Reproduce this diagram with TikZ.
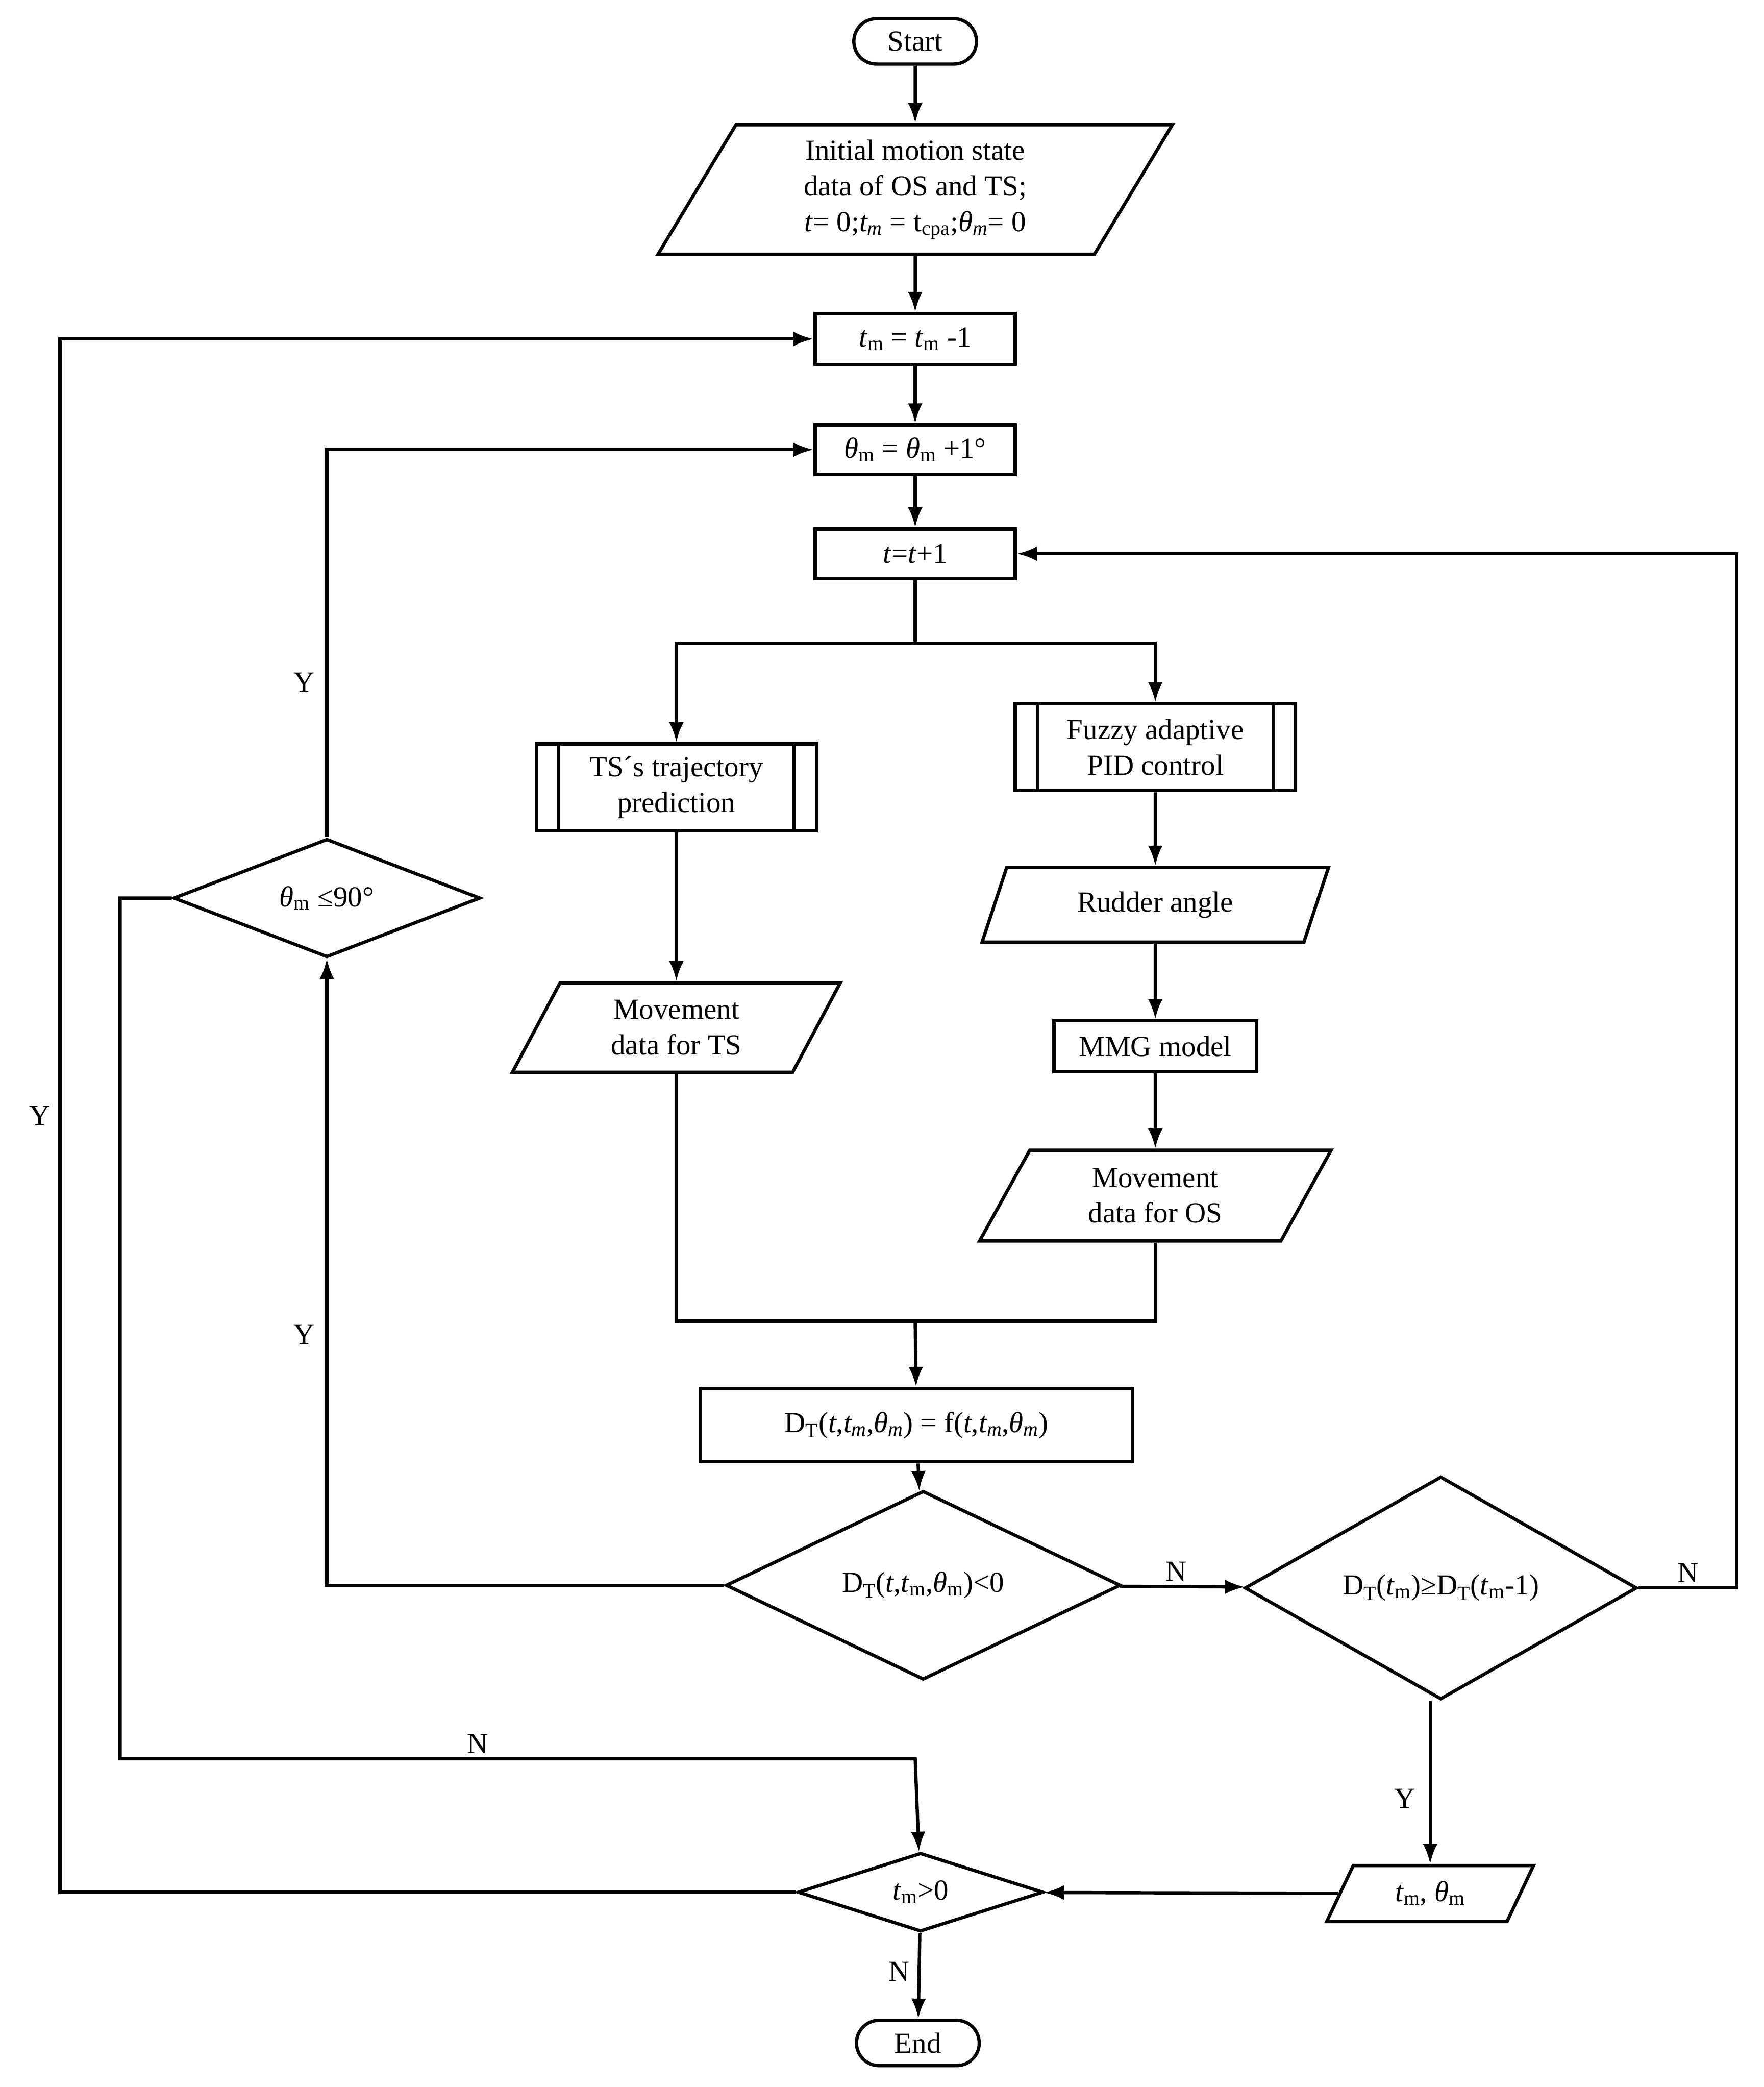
\documentclass[tikz,border=0pt]{standalone}
\usepackage{fontspec}
\setmainfont{Liberation Serif}
\usetikzlibrary{shapes.geometric,shapes.misc,arrows.meta}
\newcommand{\tm}{\textit{t}\textsubscript{m}}
\newcommand{\thm}{\textit{θ}\textsubscript{m}}
\newcommand{\DT}{D\textsubscript{T}}
\begin{document}
\begin{tikzpicture}[
x=0.05cm, y=-0.05cm,
>={Latex[length=0.75cm,width=0.55cm]},
line width=3.5pt,
font=\fontsize{31}{38}\selectfont,
every node/.style={inner sep=0pt},
proc/.style={rectangle,draw,align=center},
term/.style={rounded rectangle,draw,minimum width=4.6cm,minimum height=1.7cm},
io/.style={trapezium,draw,align=center,trapezium left angle=64,trapezium right angle=116,trapezium stretches=true},
dec/.style={diamond,draw,align=center},
line/.style={draw,->},
lbl/.style={font=\fontsize{31}{38}\selectfont}
]
\useasboundingbox (0,0) rectangle (1322,1564);

\node[term] (start) at (686,31) {Start};
\node[io,minimum width=19.3cm,minimum height=4.85cm] (init) at (686,142) {Initial motion state\\ data of OS and TS;\\ \textit{t}= 0;\textit{t\textsubscript{m}} = t\textsubscript{cpa};\textit{θ\textsubscript{m}}= 0};
\node[proc,minimum width=7.5cm,minimum height=1.9cm] (tmdec) at (686,254) {\tm{} = \tm{} -1};
\node[proc,minimum width=7.5cm,minimum height=1.85cm] (thinc) at (686,337) {\thm{} = \thm{} +1°};
\node[proc,minimum width=7.5cm,minimum height=1.85cm] (tinc) at (686,415) {\textit{t}=\textit{t}+1};
\node[proc,minimum width=10.5cm,minimum height=3.25cm] (pred) at (507,590) {TS´s trajectory\\ prediction};
\node[proc,minimum width=10.5cm,minimum height=3.25cm] (fuzzy) at (866,560) {Fuzzy adaptive\\ PID control};
\node[io,minimum width=13cm,minimum height=2.8cm] (rudder) at (866,678) {Rudder angle};
\node[proc,minimum width=7.6cm,minimum height=1.9cm] (mmg) at (866,784) {MMG model};
\node[io,minimum width=13.2cm,minimum height=3.4cm] (movos) at (866,896) {Movement\\ data for OS};
\node[io,minimum width=12.3cm,minimum height=3.35cm] (movts) at (507,770) {Movement\\ data for TS};
\node[proc,minimum width=16.2cm,minimum height=2.75cm] (dist) at (687,1068) {\DT(\textit{t},\textit{t\textsubscript{m}},\textit{θ\textsubscript{m}}) = f(\textit{t},\textit{t\textsubscript{m}},\textit{θ\textsubscript{m}})};
\node[dec,minimum width=14.8cm,minimum height=4.5cm] (neg) at (692,1188) {\DT(\textit{t},\tm,\thm)<0};
\node[dec,minimum width=14.7cm,minimum height=4.7cm] (grow) at (1080,1190) {\DT(\tm)≥\DT(\tm-1)};
\node[dec,minimum width=11.5cm,minimum height=3.6cm] (lim) at (245,673) {\thm{} ≤90°};
\node[io,minimum width=7.8cm,minimum height=2.1cm] (res) at (1072,1419) {\tm, \thm};
\node[dec,minimum width=9.2cm,minimum height=2.6cm] (pos) at (690,1418) {\tm>0};
\node[term] (end) at (688,1531) {End};

% predefined process bars
\draw ([xshift=0.9cm]pred.north west) -- ([xshift=0.9cm]pred.south west);
\draw ([xshift=-0.9cm]pred.north east) -- ([xshift=-0.9cm]pred.south east);
\draw ([xshift=0.9cm]fuzzy.north west) -- ([xshift=0.9cm]fuzzy.south west);
\draw ([xshift=-0.9cm]fuzzy.north east) -- ([xshift=-0.9cm]fuzzy.south east);

% main column
\path[line] (start) -- (init);
\path[line] (init) -- (tmdec);
\path[line] (tmdec) -- (thinc);
\path[line] (thinc) -- (tinc);
\path[line] (tinc) |- (507,482) -- (pred.north);
\path[line] (tinc) |- (866,482) -- (fuzzy);
\path[line] (fuzzy) -- (rudder);
\path[line] (rudder) -- (mmg);
\path[line] (mmg) -- (movos);
\path[line] (pred) -- (movts);
\draw (movts.south) |- (686,990);
\draw (movos) |- (686,990);
\path[line] (686,990) -- (dist);
\path[line] (dist) -- (neg);

% decisions
\path[line] (neg) -- node[lbl,pos=0.45,above=4pt] {N} (grow);
\path[line] (grow.east) -- node[lbl,above=4pt,pos=0.5] {N} (1302,1190) |- (tinc);
\path[line] (grow.south -| res.north) -- node[lbl,left=0.5cm,pos=0.6] {Y} (res.north);
\path[line] (res) -- (pos);
\path[line] (pos) -- node[lbl,left=0.3cm,pos=0.45] {N} (end);
\path[line] (pos.west) -| node[lbl,left=0.3cm,pos=0.75] {Y} (45,254) -- (tmdec);
\path[line] (neg.west) -| node[lbl,left=0.4cm,pos=0.7] {Y} (lim.south);
\path[line] (lim.north) -- node[lbl,left=0.4cm,pos=0.4] {Y} (lim.north |- thinc) -- (thinc);
\path[line] (lim.west) -| (90,1318) -- node[lbl,above=4pt,pos=0.45] {N} (686,1318) -- (pos);
\end{tikzpicture}
\end{document}
